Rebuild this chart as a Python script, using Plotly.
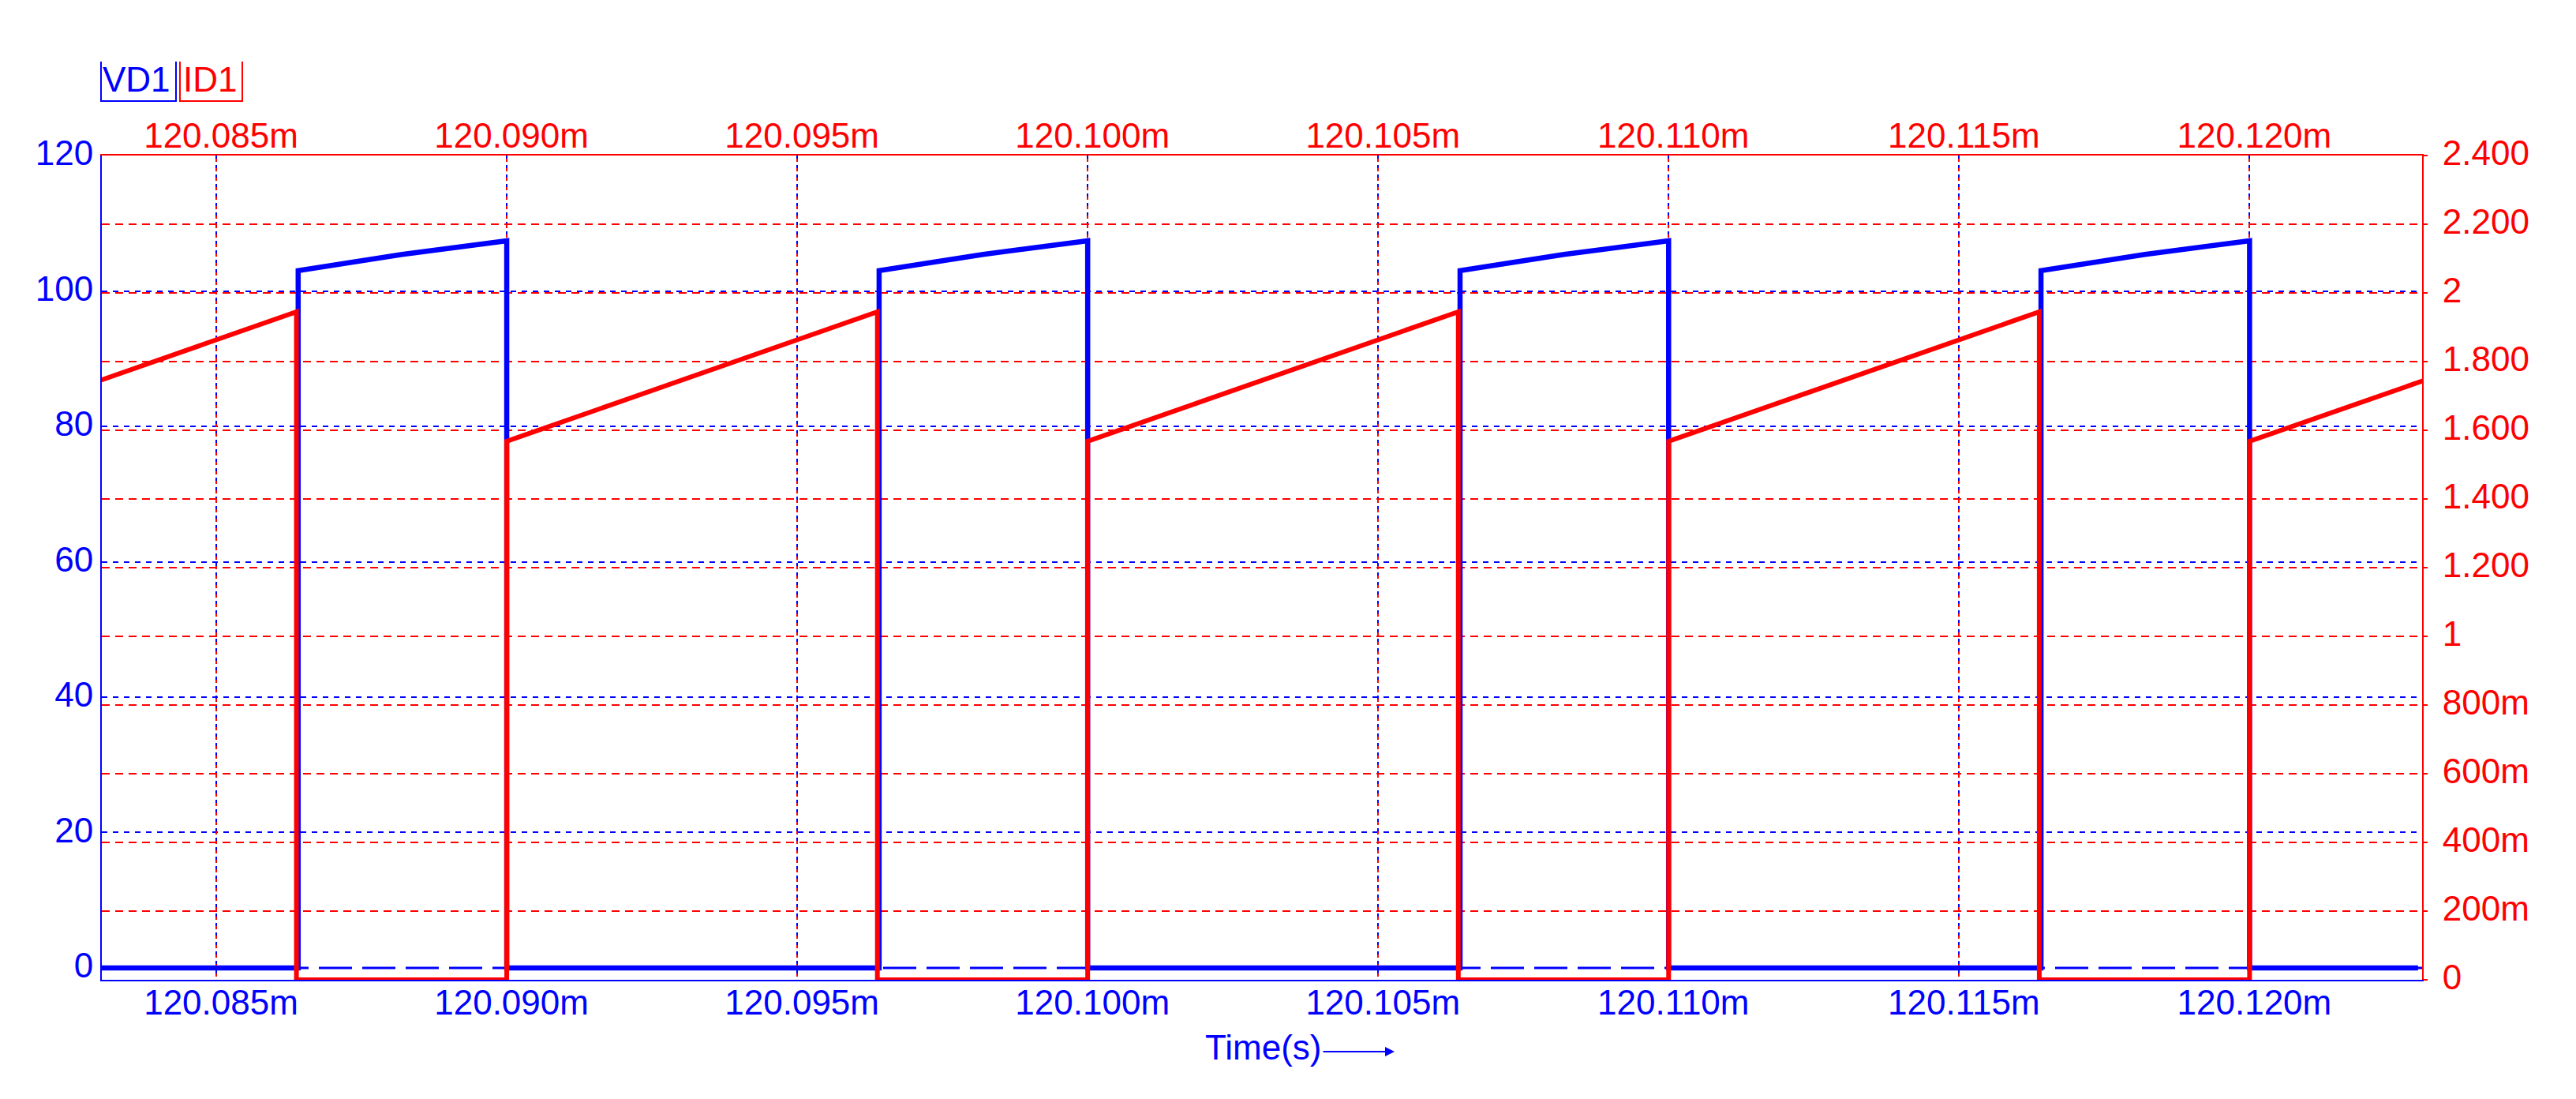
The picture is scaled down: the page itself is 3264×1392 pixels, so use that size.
import plotly.graph_objects as go

# ---------------- data (time in ms) ----------------
vd1_time = [120.0830, 120.08641, 120.08641, 120.0882, 120.0900, 120.0900,
            120.09641, 120.09641, 120.0982, 120.1000, 120.1000,
            120.10641, 120.10641, 120.1082, 120.1100, 120.1100,
            120.11641, 120.11641, 120.1182, 120.1200, 120.1200, 120.1229]
vd1_volts = [0, 0, 103.0, 105.4, 107.4, 0,
             0, 103.0, 105.4, 107.4, 0,
             0, 103.0, 105.4, 107.4, 0,
             0, 103.0, 105.4, 107.4, 0, 0]

id1_time = [120.0830, 120.08638, 120.08638, 120.0900, 120.0900,
            120.09638, 120.09638, 120.1000, 120.1000,
            120.10638, 120.10638, 120.1100, 120.1100,
            120.11638, 120.11638, 120.1200, 120.1200, 120.1230]
id1_amps = [1.745, 1.945, 0, 0, 1.568,
            1.945, 0, 0, 1.568,
            1.945, 0, 0, 1.568,
            1.945, 0, 0, 1.568, 1.745]

x_tickvals = [120.085, 120.090, 120.095, 120.100, 120.105, 120.110, 120.115, 120.120]
x_ticktext = ["120.085m", "120.090m", "120.095m", "120.100m",
              "120.105m", "120.110m", "120.115m", "120.120m"]
x_range = [120.08303, 120.12297]

left_tickvals = [0, 20, 40, 60, 80, 100, 120]
left_ticktext = ["0", "20", "40", "60", "80", "100", "120"]
left_gridvals = [20, 40, 60, 80, 100]
left_range = [-1.75, 120]

right_tickvals = [0, 0.2, 0.4, 0.6, 0.8, 1.0, 1.2, 1.4, 1.6, 1.8, 2.0, 2.2, 2.4]
right_ticktext = ["0", "200m", "400m", "600m", "800m", "1", "1.200", "1.400",
                  "1.600", "1.800", "2", "2.200", "2.400"]
right_range = [0, 2.4]

BLUE = "#0000FF"
RED = "#FF0000"
FONT = "Liberation Sans, Arial, sans-serif"
FS = 44

W, H = 3264, 1392
L, R, T, B = 129, 195, 197, 151
PW, PH = W - L - R, H - T - B


def px2x(px):
    return (px - L) / PW


def py2y(py):
    return (H - B - py) / PH


fig = go.Figure()
fig.add_trace(go.Scatter(x=vd1_time, y=vd1_volts, mode="lines", name="VD1",
                         line=dict(color=BLUE, width=6.5), xaxis="x", yaxis="y",
                         hoverinfo="x+y"))
fig.add_trace(go.Scatter(x=id1_time, y=id1_amps, mode="lines", name="ID1",
                         line=dict(color=RED, width=6), xaxis="x2", yaxis="y2",
                         hoverinfo="x+y"))

fig.update_layout(
    width=W, height=H,
    margin=dict(l=L, r=R, t=T, b=B, pad=0),
    paper_bgcolor="white", plot_bgcolor="white",
    showlegend=False,
    font=dict(family=FONT, size=FS),
    xaxis=dict(range=x_range, tickmode="array", tickvals=x_tickvals, ticktext=x_ticktext,
               showline=True, linecolor=BLUE, linewidth=2, ticks="",
               tickfont=dict(color=BLUE, size=FS, family=FONT),
               showgrid=True, gridcolor=BLUE, gridwidth=2, griddash="4px,8px",
               zeroline=False, anchor="y", side="bottom", ticklabelshift=6,
               ticklabelstandoff=-11),
    xaxis2=dict(range=x_range, matches="x", overlaying="x", tickmode="array",
                tickvals=x_tickvals, ticktext=x_ticktext,
                showline=True, linecolor=RED, linewidth=2, ticks="",
                tickfont=dict(color=RED, size=FS, family=FONT),
                showgrid=True, gridcolor=RED, gridwidth=2, griddash="0px,4px,4px,4px",
                zeroline=False, anchor="y", side="top", ticklabelshift=6,
                ticklabelstandoff=-10),
    yaxis=dict(range=left_range, tickmode="array", tickvals=left_tickvals,
               ticktext=left_ticktext, showline=True, linecolor=BLUE, linewidth=2,
               ticks="", tickfont=dict(color=BLUE, size=FS, family=FONT),
               showgrid=False, zeroline=False,
               minor=dict(tickmode="array", tickvals=left_gridvals, showgrid=True,
                          gridcolor=BLUE, gridwidth=2, griddash="7px,7px", ticks=""),
               anchor="x", side="left", ticklabelshift=-3, ticklabelstandoff=0),
    yaxis2=dict(range=right_range, tickmode="array", tickvals=right_tickvals,
                ticktext=right_ticktext, overlaying="y", side="right", anchor="x",
                showline=True, linecolor=RED, linewidth=2, ticks="outside", ticklen=5,
                tickcolor=RED, tickwidth=2,
                tickfont=dict(color=RED, size=FS, family=FONT),
                showgrid=True, gridcolor=RED, gridwidth=2, griddash="10px,7px",
                zeroline=False, ticklabelshift=-3, ticklabelstandoff=10),
)

# long-dash reference line at VD1 = 0
fig.add_shape(type="line", xref="paper", x0=0, x1=1, yref="y", y0=0, y1=0,
              line=dict(color=BLUE, width=3, dash="42px,13px"), layer="below")

# legend brackets
fig.add_shape(type="path", xref="paper", yref="paper",
              path=f"M {px2x(128)},{py2y(78)} L {px2x(128)},{py2y(128)} "
                   f"L {px2x(223)},{py2y(128)} L {px2x(223)},{py2y(78)}",
              line=dict(color=BLUE, width=2))
fig.add_shape(type="path", xref="paper", yref="paper",
              path=f"M {px2x(228)},{py2y(78)} L {px2x(228)},{py2y(128)} "
                   f"L {px2x(307)},{py2y(128)} L {px2x(307)},{py2y(78)}",
              line=dict(color=RED, width=2))
fig.add_annotation(text="VD1", xref="paper", yref="paper", x=px2x(173), y=py2y(100),
                   xanchor="center", yanchor="middle", showarrow=False,
                   font=dict(color=BLUE, size=FS, family=FONT))
fig.add_annotation(text="ID1", xref="paper", yref="paper", x=px2x(266), y=py2y(100),
                   xanchor="center", yanchor="middle", showarrow=False,
                   font=dict(color=RED, size=FS, family=FONT))

# axis title with arrow
fig.add_annotation(text="Time(s)", xref="paper", yref="paper", x=px2x(1600), y=py2y(1326),
                   xanchor="center", yanchor="middle", showarrow=False,
                   font=dict(color=BLUE, size=FS, family=FONT))
fig.add_annotation(text="", xref="paper", yref="paper", x=px2x(1767), y=py2y(1332),
                   ax=-92, ay=0, showarrow=True, arrowhead=2, arrowsize=1.2,
                   arrowwidth=2, arrowcolor=BLUE)

fig.write_html("out.html", config={"displayModeBar": False},
               post_script="document.body.style.margin='0px';")
